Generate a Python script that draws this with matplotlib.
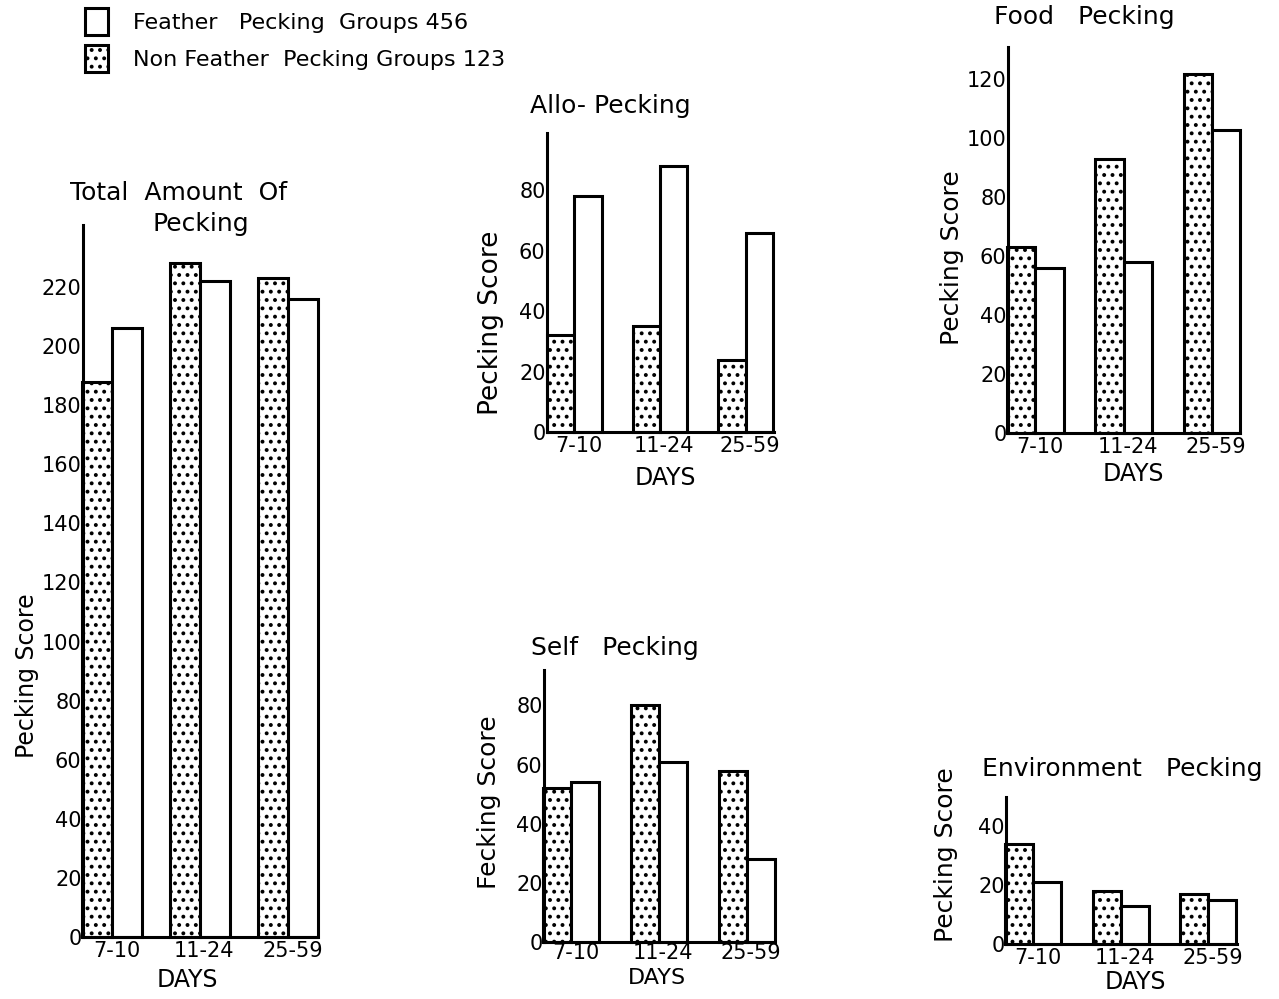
import matplotlib
matplotlib.use("Agg")
import matplotlib.pyplot as plt
import numpy as np

# ---- data ----
days = ["7-10", "11-24", "25-59"]
legend_fp = "Feather   Pecking  Groups 456"
legend_nf = "Non Feather  Pecking Groups 123"

total_nf = [188, 228, 223]
total_fp = [206, 222, 216]
allo_nf = [32, 35, 24]
allo_fp = [78, 88, 66]
self_nf = [52, 80, 58]
self_fp = [54, 61, 28]
food_nf = [63, 93, 122]
food_fp = [56, 58, 103]
env_nf = [34, 18, 17]
env_fp = [21, 13, 15]

total_yticks = list(range(0, 221, 20))
allo_yticks = [0, 20, 40, 60, 80]
self_yticks = [0, 20, 40, 60, 80]
food_yticks = [0, 20, 40, 60, 80, 100, 120]
env_yticks = [0, 20, 40]

plt.rcParams['font.family'] = ['DejaVu Sans']
plt.rcParams['hatch.color'] = 'black'
plt.rcParams['hatch.linewidth'] = 1.6

W, H = 1279, 999
fig = plt.figure(figsize=(W / 100, H / 100), dpi=100)


def px_axes(l, r, t, b):
    return fig.add_axes([l / W, 1 - b / H, (r - l) / W, (b - t) / H])


def panel(box, nf, fp, ymax, yticks, xlim, bw=0.33, tsize=15, xpad=3):
    ax = px_axes(*box)
    x = np.arange(len(days))
    b1 = ax.bar(x - bw / 2, nf, bw, facecolor='white', edgecolor='black',
                hatch='..', linewidth=2.2, zorder=2, clip_on=False)
    b2 = ax.bar(x + bw / 2, fp, bw, facecolor='white', edgecolor='black',
                linewidth=2.2, zorder=2, clip_on=False)
    ax.set_ylim(0, ymax)
    ax.set_xlim(*xlim)
    ax.set_yticks(yticks)
    ax.set_xticks(x + 0.05)
    ax.set_xticklabels(days)
    for s in ['top', 'right']:
        ax.spines[s].set_visible(False)
    for s in ['left', 'bottom']:
        ax.spines[s].set_linewidth(2.2)
        ax.spines[s].set_zorder(3)
    ax.tick_params(axis='y', length=0, pad=1, labelsize=tsize)
    ax.tick_params(axis='x', length=0, pad=xpad, labelsize=tsize)
    ax.patch.set_alpha(0)
    return ax, b1, b2


def ftext(x, y, s, size=18, rot=0):
    fig.text(x / W, 1 - y / H, s, ha='center', va='center', fontsize=size,
             rotation=rot)


# Total
ax, b1, b2 = panel((83, 317, 225, 937), total_nf, total_fp, 241, total_yticks,
                   (-0.33, 2.33), bw=0.34)
ftext(179, 193, "Total  Amount  Of", 18)
ftext(201, 224, "Pecking", 18)
ftext(27, 676, "Pecking Score", 17, 90)
ftext(187, 980, "DAYS", 17)

# Allo
panel((547, 774, 133, 432), allo_nf, allo_fp, 99, allo_yticks, (-0.32, 2.33), bw=0.32)
ftext(610, 106, "Allo- Pecking", 18)
ftext(491, 323, "Pecking Score", 19, 90)
ftext(665, 478, "DAYS", 17)

# Self
panel((544, 774, 670, 942), self_nf, self_fp, 92, self_yticks, (-0.31, 2.31), bw=0.32,
      xpad=1)
ftext(615, 648, "Self   Pecking", 18)
ftext(489, 802, "Fecking Score", 18, 90)
ftext(657, 978, "DAYS", 16)

# Food
panel((1008, 1240, 47, 433), food_nf, food_fp, 131, food_yticks, (-0.31, 2.32), bw=0.32)
ftext(1084, 17, "Food   Pecking", 18)
ftext(952, 258, "Pecking Score", 18, 90)
ftext(1133, 474, "DAYS", 17)

# Environment
panel((1006, 1237, 797, 944), env_nf, env_fp, 50, env_yticks, (-0.31, 2.33), bw=0.32)
ftext(1122, 769, "Environment   Pecking", 18)
ftext(946, 855, "Pecking Score", 18, 90)
ftext(1135, 982, "DAYS", 17)

# Legend
fig.legend([b2, b1], [legend_fp, legend_nf], loc='upper left',
           bbox_to_anchor=(85 / W, 1 - 8 / H), frameon=False, fontsize=16,
           handlelength=1.05, handleheight=1.5, handletextpad=1.1,
           labelspacing=0.45, borderpad=0, borderaxespad=0)

fig.savefig("out.png", dpi=100)
